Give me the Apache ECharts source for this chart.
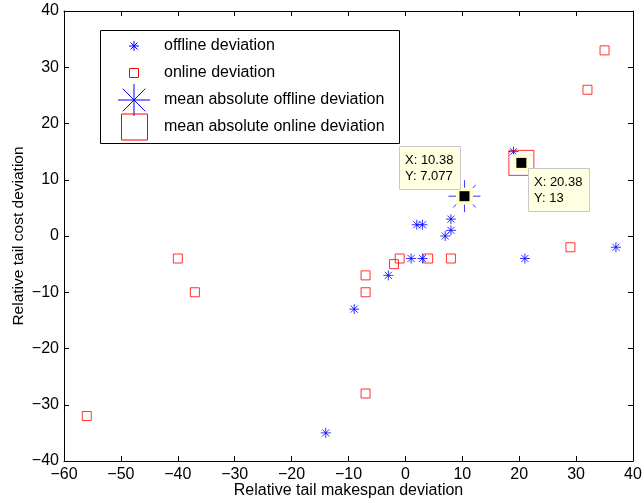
<!DOCTYPE html>
<html>
<head>
<meta charset="utf-8">
<script src="https://cdn.jsdelivr.net/npm/echarts@6/dist/echarts.min.js"></script>
<style>
  html, body { margin: 0; padding: 0; background: #fff; }
  #main { width: 644px; height: 503px; }
</style>
</head>
<body>
<div id="main"></div>
<script>
// data
var offlineX = [-14, -9, -3, 1, 3, 2, 3, 7, 8, 8, 19, 21, 37];
var offlineY = [-35, -13, -7, -4, -4, 2, 2, 0, 1, 3, 15, -4, -2];
var onlineX = [-56, -40, -37, -7, -7, -7, -2, -1, 4, 8, 29, 32, 35];
var onlineY = [-32, -4, -10, -7, -10, -28, -5, -4, -4, -4, -2, 26, 33];
var meanOffline = [10.38, 7.077];
var meanOnline = [20.38, 13];
var legendNames = ['offline deviation', 'online deviation',
  'mean absolute offline deviation', 'mean absolute online deviation'];

var FONT = '"Liberation Sans", Arial, Helvetica, sans-serif';
var STAR = 'path://M0,-1L0,1M-1,0L1,0M-0.7071,-0.7071L0.7071,0.7071M-0.7071,0.7071L0.7071,-0.7071';

function zip(xs, ys) {
  return xs.map(function (x, i) { return [x, ys[i]]; });
}
function minus(v) {
  return v < 0 ? '\u2212' + Math.abs(v) : String(v);
}

// asterisk for the hand drawn legend
function starGroup(cx, cy, r, color) {
  var d = r * 0.7071;
  var segs = [[0, -r, 0, r], [-r, 0, r, 0], [-d, -d, d, d], [-d, d, d, -d]];
  return {
    type: 'group', z: 51,
    children: segs.map(function (s) {
      return {
        type: 'line', z: 51,
        shape: { x1: cx + s[0], y1: cy + s[1], x2: cx + s[2], y2: cy + s[3] },
        style: { stroke: color, lineWidth: 1 }
      };
    })
  };
}

var chart = echarts.init(document.getElementById('main'), null, { renderer: 'canvas' });

var axisCommon = {
  axisLine: { show: true, onZero: false, lineStyle: { color: '#000', width: 1 } },
  axisTick: { show: true, inside: true, length: 5, lineStyle: { color: '#000' } },
  splitLine: { show: false }
};

// legend drawn by hand, MATLAB style (mixed symbol sizes)
var legendRows = [46, 73, 100, 127];
var legendGraphic = [{
  type: 'rect', z: 50,
  shape: { x: 100.5, y: 30.5, width: 299, height: 113 },
  style: { fill: '#fff', stroke: '#000', lineWidth: 1 }
}];
legendGraphic.push(starGroup(134, legendRows[0], 5, '#0000ff'));
legendGraphic.push({
  type: 'rect', z: 51, shape: { x: 129.5, y: legendRows[1] - 4.5, width: 9, height: 9 },
  style: { stroke: '#ff0000', fill: 'none', lineWidth: 1 }
});
legendGraphic.push(starGroup(134, legendRows[2], 16, '#0000ff'));
legendGraphic.push({
  type: 'rect', z: 51, shape: { x: 121.5, y: legendRows[3] - 13, width: 26, height: 26 },
  style: { stroke: '#ff0000', fill: 'none', lineWidth: 1 }
});
legendNames.forEach(function (name, i) {
  legendGraphic.push({
    type: 'text', z: 51, x: 164, y: legendRows[i],
    style: { text: name, font: '16px ' + FONT, fill: '#000', verticalAlign: 'middle' }
  });
});

var option = {
  animation: false,
  backgroundColor: '#fff',
  textStyle: { fontFamily: FONT },
  grid: { left: 64, right: 11, top: 11, bottom: 42, outerBoundsMode: 'none' },
  xAxis: [
    Object.assign({
      type: 'value', min: -60, max: 40, interval: 10, position: 'bottom',
      name: 'Relative tail makespan deviation', nameLocation: 'middle', nameGap: 22,
      nameMoveOverlap: false,
      nameTextStyle: { fontSize: 16, color: '#000', fontFamily: FONT },
      axisLabel: { fontSize: 16, color: '#000', margin: 6, fontFamily: FONT, formatter: minus }
    }, axisCommon),
    Object.assign({
      type: 'value', min: -60, max: 40, interval: 10, position: 'top',
      axisLabel: { show: false }
    }, axisCommon)
  ],
  yAxis: [
    Object.assign({
      type: 'value', min: -40, max: 40, interval: 10, position: 'left',
      name: 'Relative tail cost deviation', nameLocation: 'middle', nameGap: 37,
      nameMoveOverlap: false,
      nameTextStyle: { fontSize: 15.5, color: '#000', fontFamily: FONT },
      axisLabel: { fontSize: 16, color: '#000', margin: 5, fontFamily: FONT, formatter: minus }
    }, axisCommon),
    Object.assign({
      type: 'value', min: -40, max: 40, interval: 10, position: 'right',
      axisLabel: { show: false }
    }, axisCommon)
  ],
  graphic: legendGraphic,
  series: [
    {
      name: legendNames[0], type: 'scatter', symbol: STAR, symbolSize: 10,
      itemStyle: { color: 'none', borderColor: '#0000ff', borderWidth: 1 },
      data: zip(offlineX, offlineY), z: 3
    },
    {
      name: legendNames[1], type: 'scatter', symbol: 'rect', symbolSize: 9,
      itemStyle: { color: 'none', borderColor: '#ff0000', borderWidth: 1 },
      data: zip(onlineX, onlineY), z: 3
    },
    {
      name: legendNames[2], type: 'scatter', symbol: STAR, symbolSize: 32,
      itemStyle: { color: 'none', borderColor: '#0000ff', borderWidth: 1 },
      data: [meanOffline], z: 4
    },
    {
      name: legendNames[3], type: 'scatter', symbol: 'rect', symbolSize: 25,
      itemStyle: { color: 'none', borderColor: '#ff0000', borderWidth: 1 },
      data: [meanOnline], z: 4
    },
    {
      // data cursor markers and tips
      name: 'datatips', type: 'custom', z: 10, silent: true,
      data: [meanOffline, meanOnline],
      renderItem: function (params, api) {
        var x = api.value(0), y = api.value(1);
        var p = api.coord([x, y]);
        var left = params.dataIndex === 0;
        var bx = left ? p[0] - 65 : p[0] + 7;
        var by = left ? p[1] - 50 : p[1] + 5;
        return {
          type: 'group',
          children: [
            { type: 'rect', shape: { x: p[0] - 8.5, y: p[1] - 8.5, width: 17, height: 17 },
              style: { fill: '#ffffcc' } },
            { type: 'rect', shape: { x: p[0] - 5, y: p[1] - 5, width: 10, height: 10 },
              style: { fill: '#000' } },
            { type: 'rect', shape: { x: Math.round(bx) + 0.5, y: Math.round(by) + 0.5, width: 61, height: 43 },
              style: { fill: '#ffffe1', stroke: '#c8c8c8', lineWidth: 1 } },
            { type: 'text', x: Math.round(bx) + 6, y: Math.round(by) + 6,
              style: { text: 'X: ' + x + '\nY: ' + y, font: '13px ' + FONT, fill: '#000', lineHeight: 16 } }
          ]
        };
      }
    }
  ]
};

chart.setOption(option);
</script>
</body>
</html>
